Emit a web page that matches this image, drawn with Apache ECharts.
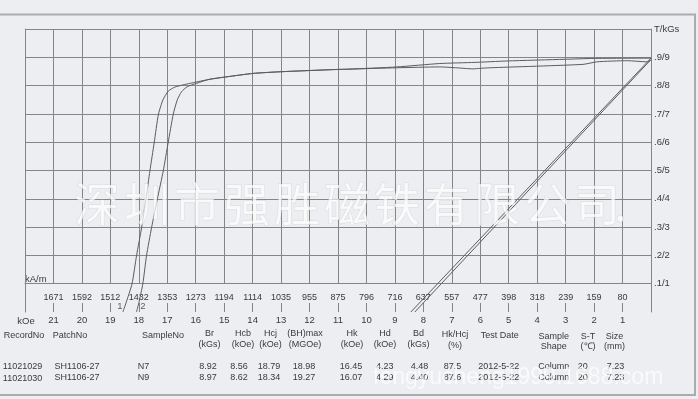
<!DOCTYPE html>
<html><head><meta charset="utf-8">
<script src="https://cdn.jsdelivr.net/npm/echarts@6/dist/echarts.min.js"></script>
<style>html,body{margin:0;padding:0;background:#eceef1;}#c{width:698px;height:399px;}</style>
</head><body><div id="c"></div>
<script>
// ---- data ----
const kOeTicks = [21,20,19,18,17,16,15,14,13,12,11,10,9,8,7,6,5,4,3,2,1];
const kAmLabels = ['1671','1592','1512','1432','1353','1273','1194','1114','1035','955','875','796','716','637','557','477','398','318','239','159','80'];
const yTickValues = [1,2,3,4,5,6,7,8,9,10];
const yTickLabels = ['.1/1','.2/2','.3/3','.4/4','.5/5','.6/6','.7/7','.8/8','.9/9','T/kGs'];

// intrinsic curves (H in kOe, J in kGs)
const curve1H = [0, 0.14, 0.84, 1.90, 2.39, 5.66, 6.01, 6.26, 6.71, 7.42, 8.93, 10.65, 11.04, 13.01, 13.99, 14.91, 15.62, 16.20, 16.73, 16.97, 17.15, 17.31, 17.46, 17.61, 17.75, 17.90, 18.08, 18.24, 18.45, 18.56];
const curve1J = [8.90, 8.84, 8.88, 8.84, 8.75, 8.63, 8.61, 8.59, 8.62, 8.66, 8.63, 8.58, 8.57, 8.49, 8.43, 8.31, 8.20, 8.08, 7.95, 7.80, 7.50, 6.99, 5.98, 4.99, 3.99, 2.99, 1.99, 0.99, 0.32, 0];
const curve2H = [0, 2.04, 3.02, 5.06, 6.19, 7.42, 8.93, 10.65, 11.04, 13.01, 13.99, 14.91, 15.50, 15.97, 16.30, 16.50, 16.65, 16.79, 16.97, 17.14, 17.35, 17.55, 17.73, 17.86, 18.00, 18.08];
const curve2J = [8.97, 8.96, 8.93, 8.87, 8.82, 8.78, 8.66, 8.58, 8.57, 8.49, 8.43, 8.31, 8.23, 8.08, 7.96, 7.78, 7.49, 6.99, 5.98, 4.99, 3.99, 2.99, 1.99, 0.99, 0.32, 0];
// normal curves
const line1H = [0, 8.30];
const line1B = [8.92, 0];
const line2H = [0, 8.44];
const line2B = [8.97, 0];
const curveTags = ['1', '2'];
const tagPoint1 = [18.5, 0.2];
const tagPoint2 = [18.02, 0.19];

// table
const tableHeaders = [['RecordNo'],['PatchNo'],['SampleNo'],['Br','(kGs)'],['Hcb','(kOe)'],['Hcj','(kOe)'],['(BH)max','(MGOe)'],['Hk','(kOe)'],['Hd','(kOe)'],['Bd','(kGs)'],['Hk/Hcj','(%)'],['Test Date'],['Sample','Shape'],['S-T','(\u2103)'],['Size','(mm)']];
const row1 = ['11021029','SH1106-27','N7','8.92','8.56','18.79','18.98','16.45','4.23','4.48','87.5','2012-5-22','Column','20','7.23'];
const row2 = ['11021030','SH1106-27','N9','8.97','8.62','18.34','19.27','16.07','4.29','4.40','87.6','2012-5-22','Column','20','7.23'];
const watermarkChars = ['深','圳','市','强','胜','磁','铁','有','限','公','司','.'];
const watermark2 = 'fengyucheng1999.1688.com';

// ---- layout / style ----
const headerCX = [24, 70, 163, 209.5, 243, 270.5, 305, 352, 385, 418.5, 455, 499.7, 553.7, 588, 614.5];
const headerY1 = [335.5,335.5,335.5,333.5,333.5,333.5,333.5,333.5,333.5,333.5,335,335.5,336.5,336.5,336.5];
const headerY2 = [0,0,0,344.5,344.5,344.5,344.5,344.5,344.5,344.5,345.5,0,347,347,347];
const dataCX = [22.5, 77, 143.5, 208, 239, 269, 304, 351, 384.7, 419.5, 452.5, 498.8, 553.8, 582.7, 615.5];
const rowY = [367, 378];
const FONT = '"Liberation Sans", Arial, sans-serif';
const TXT = '#3a3a3a';
const GRIDC = '#858585';
const CURVE = '#5c5c5c';

const pairs = (xs, ys) => xs.map((x, i) => [x, ys[i]]);

const graphic = [];
graphic.push({type:'rect', shape:{x:-5, y:14.5, width:700, height:380.5}, style:{fill:'none', stroke:'#a9abae', lineWidth:2}, z:1});
graphic.push({type:'text', x:25, y:279.5, style:{text:'kA/m', fill:TXT, font:'9.5px ' + FONT, textAlign:'left', textVerticalAlign:'middle'}});
graphic.push({type:'text', x:26, y:321.5, style:{text:'kOe', fill:TXT, font:'9.5px ' + FONT, textAlign:'center', textVerticalAlign:'middle'}});
tableHeaders.forEach((h, i) => {
  graphic.push({type:'text', x:headerCX[i], y:headerY1[i], style:{text:h[0], fill:TXT, font:'9px ' + FONT, textAlign:'center', textVerticalAlign:'middle'}});
  if (h[1]) graphic.push({type:'text', x:headerCX[i], y:headerY2[i], style:{text:h[1], fill:TXT, font:'9px ' + FONT, textAlign:'center', textVerticalAlign:'middle'}});
});
[row1, row2].forEach((r, ri) => {
  r.forEach((v, i) => {
    graphic.push({type:'text', x:dataCX[i], y:rowY[ri] + (i === 0 && ri === 1 ? 1 : 0), style:{text:v, fill:TXT, font:'9px ' + FONT, textAlign:'center', textVerticalAlign:'middle'}});
  });
});
watermarkChars.forEach((ch, i) => {
  graphic.push({type:'text', x:74 + i * 50 - (ch === '.' ? 10 : 0), y:204, z:100, style:{text:ch, fill:'rgba(255,255,255,0.72)', stroke:'rgba(185,187,191,0.35)', lineWidth:1, font:'46px "Noto Sans CJK SC", sans-serif', textAlign:'left', textVerticalAlign:'middle'}});
});
graphic.push({type:'text', x:373, y:378, z:100, style:{text:watermark2, fill:'rgba(255,255,255,0.7)', font:'23px ' + FONT, textAlign:'left', textVerticalAlign:'middle'}});

const chart = echarts.init(document.getElementById('c'), null, {renderer:'canvas'});
chart.setOption({
  backgroundColor:'#eceef1',
  animation:false,
  textStyle:{fontFamily:FONT},
  grid:[
    {left:25, right:47, top:29, bottom:115.3},
    {left:25, right:47, top:29, bottom:87}
  ],
  xAxis:[
    {gridIndex:0, type:'value', min:0, max:22, interval:1, inverse:true,
     axisLine:{show:true, lineStyle:{color:GRIDC, width:1}}, axisTick:{show:false},
     splitLine:{show:true, lineStyle:{color:GRIDC, width:1}},
     axisLabel:{margin:9, color:TXT, fontSize:9, fontFamily:FONT, showMinLabel:true, showMaxLabel:true,
       formatter:v => { const k = kOeTicks.indexOf(v); return k >= 0 ? kAmLabels[k] : ''; }}},
    {gridIndex:1, type:'value', min:0, max:22, interval:1, inverse:true,
     axisLine:{show:false}, axisTick:{show:true, inside:true, length:9, lineStyle:{color:GRIDC, width:1}},
     splitLine:{show:false},
     axisLabel:{margin:3, color:TXT, fontSize:9.5, fontFamily:FONT, showMinLabel:true, showMaxLabel:true,
       formatter:v => kOeTicks.indexOf(v) >= 0 ? String(v) : ''}}
  ],
  yAxis:[
    {gridIndex:0, type:'value', min:1, max:10, interval:1, axisLine:{show:false}, axisTick:{show:false}, axisLabel:{show:false},
     splitLine:{show:true, lineStyle:{color:GRIDC, width:1}}},
    {gridIndex:1, type:'value', position:'right', min:0, max:10, interval:1,
     axisLine:{show:true, lineStyle:{color:GRIDC, width:1}}, axisTick:{show:false}, splitLine:{show:false},
     axisLabel:{margin:3, color:TXT, fontSize:9.5, fontFamily:FONT, align:'left',
       formatter:v => { const k = yTickValues.indexOf(v); return k >= 0 ? yTickLabels[k] : ''; }}},
    {gridIndex:1, type:'value', position:'left', min:0, max:10, interval:1,
     axisLine:{show:true, lineStyle:{color:GRIDC, width:1}}, axisTick:{show:false}, axisLabel:{show:false}, splitLine:{show:false}}
  ],
  series:[
    {type:'line', xAxisIndex:1, yAxisIndex:1, data:pairs(curve1H, curve1J), symbol:'none', smooth:0.2, lineStyle:{color:CURVE, width:1}},
    {type:'line', xAxisIndex:1, yAxisIndex:1, data:pairs(curve2H, curve2J), symbol:'none', smooth:0.2, lineStyle:{color:CURVE, width:1}},
    {type:'line', xAxisIndex:1, yAxisIndex:1, data:pairs(line1H, line1B), symbol:'none', lineStyle:{color:CURVE, width:1}},
    {type:'line', xAxisIndex:1, yAxisIndex:1, data:pairs(line2H, line2B), symbol:'none', lineStyle:{color:CURVE, width:1}},
    {type:'scatter', xAxisIndex:1, yAxisIndex:1, symbolSize:0, silent:true,
     data:[{value:tagPoint1, label:{show:true, position:'left', distance:2, formatter:curveTags[0]}},
           {value:tagPoint2, label:{show:true, position:'right', distance:2, formatter:curveTags[1]}}],
     label:{color:TXT, fontSize:9.5, fontFamily:FONT}}
  ],
  graphic:graphic
});
</script></body></html>
